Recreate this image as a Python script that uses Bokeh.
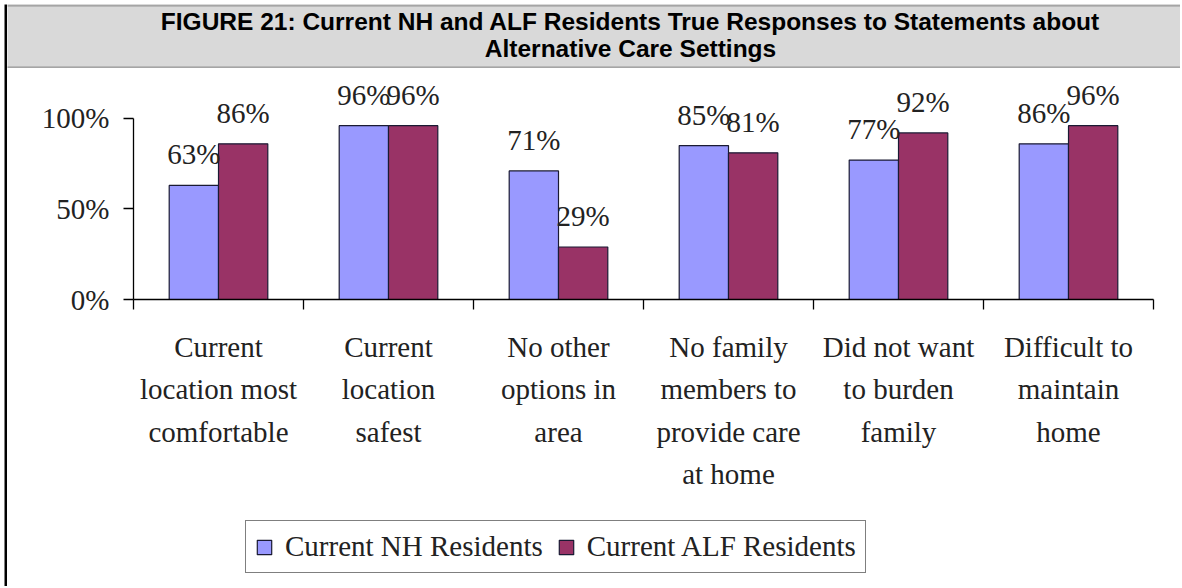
from bokeh.plotting import figure
from bokeh.layouts import column, row
from bokeh.models import (Range1d, LinearAxis, FixedTicker, BoxAnnotation,
                          ColumnDataSource, Legend, LegendItem, Label)
from bokeh.transform import dodge
from bokeh.core.properties import value
from bokeh.embed import file_html
from bokeh.resources import INLINE

# ---------------- data ----------------
categories = [
    "Current\nlocation most\ncomfortable",
    "Current\nlocation\nsafest",
    "No other\noptions in\narea",
    "No family\nmembers to\nprovide care\nat home",
    "Did not want\nto burden\nfamily",
    "Difficult to\nmaintain\nhome",
]
nh_values = [63, 96, 71, 85, 77, 86]
alf_values = [86, 96, 29, 81, 92, 96]
series_names = ["Current NH Residents", "Current ALF Residents"]
y_ticks = [0, 50, 100]
y_tick_labels = ["0%", "50%", "100%"]
title_lines = ["FIGURE 21: Current NH and ALF Residents True Responses to Statements about",
               "Alternative Care Settings"]

# ---------------- styling ----------------
W = 1173
TITLE_H = 68
MAIN_H = 440
LEG_H = 78
SERIF = "Liberation Serif"
SANS = "Liberation Sans"
FS = "29px"
TXT = "#222222"
NH_COLOR = "#9999FF"
ALF_COLOR = "#993366"
BAR_LINE = "#1a1a33"
OFF = 0.145
BAR_W = 0.29

n = len(categories)
slot_centers = [i + 0.5 for i in range(n)]


def bare(fig):
    fig.title.visible = False
    fig.outline_line_color = None
    fig.xgrid.visible = False
    fig.ygrid.visible = False
    return fig


# ---------------- left border strip ----------------
strip = bare(figure(width=7, height=TITLE_H + MAIN_H + LEG_H, output_backend="svg",
                    toolbar_location=None, x_axis_location=None, y_axis_location=None,
                    min_border=0, min_border_left=4, min_border_top=4, frame_align=False))
strip.background_fill_color = "black"
strip.border_fill_color = "white"

# ---------------- title panel ----------------
t = bare(figure(width=W, height=TITLE_H, x_range=Range1d(0, W), y_range=Range1d(TITLE_H, 0),
                output_backend="svg", toolbar_location=None,
                x_axis_location=None, y_axis_location=None, min_border=0, frame_align=False))
t.background_fill_color = "white"
t.border_fill_color = "white"
t.add_layout(BoxAnnotation(left=-10, right=W + 10, top=5, bottom=TITLE_H - 1,
                           fill_color="#d9d9d9", fill_alpha=1,
                           line_color="black", line_width=2, level="underlay"))
for i, line in enumerate(title_lines):
    t.add_layout(Label(x=623, y=21 + 27 * i, text=line, text_align="center",
                       text_baseline="middle", text_font=SANS, text_font_style="bold",
                       text_font_size="24.5px", text_color="black"))

# ---------------- chart ----------------
src = ColumnDataSource(dict(
    x=slot_centers,
    nh=nh_values,
    alf=alf_values,
    nh_lbl=[f"{v}%" for v in nh_values],
    alf_lbl=[f"{v}%" for v in alf_values],
))

p = bare(figure(width=W, height=MAIN_H, x_range=Range1d(0, n), y_range=Range1d(0, 127.6),
                output_backend="svg", toolbar_location=None,
                x_axis_location=None, y_axis_location=None,
                min_border_left=126, min_border_right=W - 1146, min_border_top=0,
                min_border_bottom=MAIN_H - 231, frame_align=False))
p.background_fill_color = "white"
p.border_fill_color = "white"

yaxis = LinearAxis(ticker=FixedTicker(ticks=y_ticks),
                   major_label_overrides={tk: lb for tk, lb in zip(y_ticks, y_tick_labels)},
                   bounds=(y_ticks[0], y_ticks[-1]),
                   major_tick_out=10, major_tick_in=0, minor_tick_out=0, minor_tick_in=0,
                   axis_line_color="black", axis_line_width=1.3, major_tick_line_width=1.3,
                   major_label_text_font=SERIF, major_label_text_font_size=FS,
                   major_label_text_color=TXT, major_label_standoff=14)
p.add_layout(yaxis, "left")

xaxis = LinearAxis(ticker=FixedTicker(ticks=slot_centers, minor_ticks=list(range(n + 1))),
                   major_label_overrides={c: lab for c, lab in zip(slot_centers, categories)},
                   major_tick_out=0, major_tick_in=0,
                   minor_tick_out=10, minor_tick_in=0, minor_tick_line_color="black",
                   minor_tick_line_width=1.3,
                   axis_line_color="black", axis_line_width=1.3,
                   major_label_text_font=SERIF, major_label_text_font_size=FS,
                   major_label_text_color=TXT,
                   major_label_text_line_height=1.33, major_label_standoff=21)
p.add_layout(xaxis, "below")

p.vbar(x=dodge("x", -OFF), top="nh", width=BAR_W, source=src,
       fill_color=NH_COLOR, line_color=BAR_LINE, line_width=1.2)
p.vbar(x=dodge("x", OFF), top="alf", width=BAR_W, source=src,
       fill_color=ALF_COLOR, line_color=BAR_LINE, line_width=1.2)

for col, lbl, off in (("nh", "nh_lbl", -OFF), ("alf", "alf_lbl", OFF)):
    p.text(x=dodge("x", off), y=col, text=lbl, source=src,
           text_align="center", text_baseline="alphabetic", y_offset=-31,
           text_font=value(SERIF), text_font_size=FS, text_color=TXT)

# ---------------- legend panel ----------------
lg = bare(figure(width=W, height=LEG_H, x_range=Range1d(0, n), y_range=Range1d(0, 100),
                 output_backend="svg", toolbar_location=None,
                 x_axis_location=None, y_axis_location=None, min_border=0, frame_align=False))
lg.background_fill_color = "white"
lg.border_fill_color = "white"
key_nh = lg.vbar(x=dodge("x", -OFF), top="nh", width=BAR_W, source=src, visible=False,
                 fill_color=NH_COLOR, line_color=BAR_LINE, line_width=1.2)
key_alf = lg.vbar(x=dodge("x", OFF), top="alf", width=BAR_W, source=src, visible=False,
                  fill_color=ALF_COLOR, line_color=BAR_LINE, line_width=1.2)
legend = Legend(items=[LegendItem(label=series_names[0], renderers=[key_nh]),
                       LegendItem(label=series_names[1], renderers=[key_alf])],
                orientation="horizontal", location=(238, 13),
                label_text_font=SERIF, label_text_font_size=FS, label_text_color=TXT,
                glyph_width=18, glyph_height=18, label_standoff=12, spacing=14,
                padding=9, margin=0, inactive_fill_alpha=0,
                border_line_color="black", border_line_width=1.5,
                background_fill_color="white", background_fill_alpha=1)
lg.add_layout(legend, "center")

layout = row(strip, column(t, p, lg, spacing=0), spacing=0)

open("out.html", "w").write(file_html(layout, INLINE))
